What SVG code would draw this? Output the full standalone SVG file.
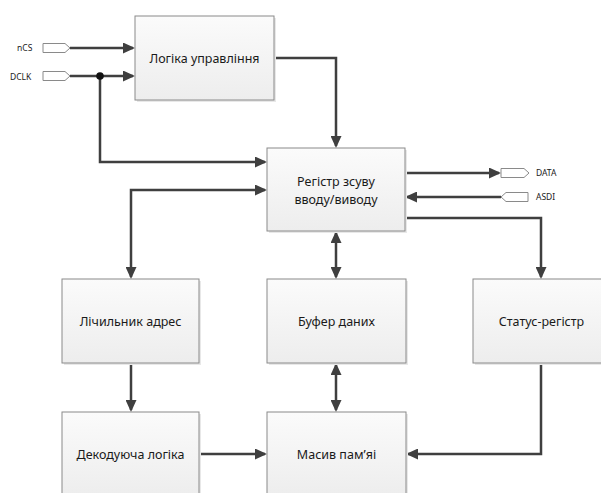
<svg xmlns="http://www.w3.org/2000/svg" width="601" height="493" viewBox="0 0 601 493">
  <style>
    .box { fill: url(#boxFill); stroke: #8a8a8a; stroke-width: 1; }
    .shadow { fill: #e8e8e8; }
    .label { font-family: "Noto Sans", "Open Sans", sans-serif; font-size: 12.5px; fill: #1a1a1a; text-anchor: middle; }
    .pin { fill: #ffffff; stroke: #8a8a8a; stroke-width: 1; }
    .pinlabel { font-family: "Noto Sans", "Open Sans", sans-serif; font-size: 8.5px; fill: #1a1a1a; }
    .wire { fill: none; stroke: #3f3f3f; stroke-width: 2.5; }
    .arrow { marker-end: url(#head); }
    .both { marker-start: url(#head); marker-end: url(#head); }
  </style>
  <defs>
    <linearGradient id="boxFill" x1="0" y1="0" x2="0" y2="1">
      <stop offset="0" stop-color="#fbfbfb"/>
      <stop offset="1" stop-color="#ededed"/>
    </linearGradient>
    <marker id="head" markerUnits="userSpaceOnUse" markerWidth="12" markerHeight="11" refX="10" refY="5.5" orient="auto-start-reverse" viewBox="0 0 12 11">
      <path d="M0,0 L12,5.5 L0,11 Z" fill="#3f3f3f"/>
    </marker>
  </defs>

  <rect width="601" height="493" fill="#ffffff"/>

  <!-- connectors -->
  <g id="connectors">
    <path class="wire arrow" d="M70,48 H133"/>
    <path class="wire arrow" d="M70,76 H133"/>
    <path class="wire arrow" d="M100,76 V162 H265"/>
    <circle cx="100" cy="76" r="3.8" fill="#111111"/>
    <path class="wire arrow" d="M274,58 H336 V146"/>
    <path class="wire both" d="M265,190 H131 V277"/>
    <path class="wire arrow" d="M405,173 H499"/>
    <path class="wire arrow" d="M501,197 H407"/>
    <path class="wire arrow" d="M405,218 H541 V277"/>
    <path class="wire both" d="M336,233 V277"/>
    <path class="wire both" d="M336,365 V410"/>
    <path class="wire arrow" d="M131,363 V410"/>
    <path class="wire arrow" d="M199,454 H265"/>
    <path class="wire arrow" d="M541,363 V454 H408"/>
  </g>

  <!-- pins -->
  <g id="pin-ncs">
    <path class="pin" d="M43,43.5 H65 L70,48 L65,52.5 H43 Z"/>
    <text class="pinlabel" x="17" y="51">nCS</text>
  </g>
  <g id="pin-dclk">
    <path class="pin" d="M43,71.5 H65 L70,76 L65,80.5 H43 Z"/>
    <text class="pinlabel" x="10" y="79.5">DCLK</text>
  </g>
  <g id="pin-data">
    <path class="pin" d="M501,168.5 H524 L529,173 L524,177.5 H501 Z"/>
    <text class="pinlabel" x="536" y="176">DATA</text>
  </g>
  <g id="pin-asdi">
    <path class="pin" d="M501,197 L506,192.5 H528 V201.5 H506 Z"/>
    <text class="pinlabel" x="536" y="200">ASDI</text>
  </g>

  <!-- blocks -->
  <g id="control-logic">
    <rect class="shadow" x="137" y="18" width="139" height="84"/>
    <rect class="box" x="135" y="16" width="139" height="84"/>
    <text class="label" x="204.5" y="62.5">Логіка управління</text>
  </g>
  <g id="shift-register">
    <rect class="shadow" x="269" y="150" width="138" height="83"/>
    <rect class="box" x="267" y="148" width="138" height="83"/>
    <text class="label" x="336" y="185.5">Регістр зсуву</text>
    <text class="label" x="336" y="203.5">вводу/виводу</text>
  </g>
  <g id="address-counter">
    <rect class="shadow" x="64" y="281" width="137" height="84"/>
    <rect class="box" x="62" y="279" width="137" height="84"/>
    <text class="label" x="130.5" y="325.5">Лічильник адрес</text>
  </g>
  <g id="data-buffer">
    <rect class="shadow" x="269" y="281" width="139" height="84"/>
    <rect class="box" x="267" y="279" width="139" height="84"/>
    <text class="label" x="336.5" y="325.5">Буфер даних</text>
  </g>
  <g id="status-register">
    <rect class="shadow" x="475" y="281" width="137" height="84"/>
    <rect class="box" x="473" y="279" width="137" height="84"/>
    <text class="label" x="541.5" y="325.5">Статус-регістр</text>
  </g>
  <g id="decode-logic">
    <rect class="shadow" x="64" y="414" width="137" height="84"/>
    <rect class="box" x="62" y="412" width="137" height="84"/>
    <text class="label" x="130.5" y="458.5">Декодуюча логіка</text>
  </g>
  <g id="memory-array">
    <rect class="shadow" x="269" y="414" width="139" height="84"/>
    <rect class="box" x="267" y="412" width="139" height="84"/>
    <text class="label" x="336.5" y="458.5">Масив пам’яі</text>
  </g>
</svg>
